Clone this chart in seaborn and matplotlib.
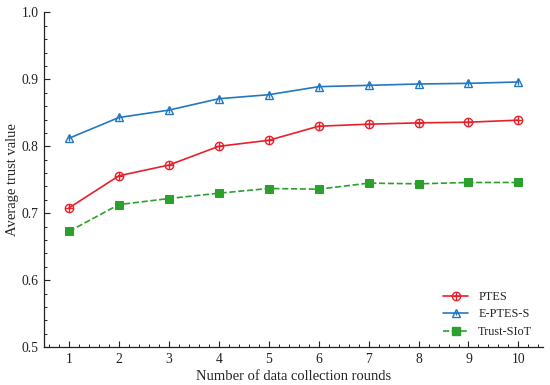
import matplotlib
matplotlib.use("Agg")
import matplotlib.pyplot as plt
import seaborn as sns
import pandas as pd
from matplotlib.ticker import AutoMinorLocator
from matplotlib.lines import Line2D

rounds = [1, 2, 3, 4, 5, 6, 7, 8, 9, 10]
ptes = [0.708, 0.756, 0.772, 0.800, 0.809, 0.830, 0.833, 0.835, 0.836, 0.839]
eptes_s = [0.812, 0.843, 0.854, 0.871, 0.877, 0.889, 0.891, 0.893, 0.894, 0.896]
trust_siot = [0.673, 0.713, 0.722, 0.730, 0.737, 0.736, 0.745, 0.744, 0.746, 0.746]
series_names = ["PTES", "E-PTES-S", "Trust-SIoT"]
x_ticks = [1, 2, 3, 4, 5, 6, 7, 8, 9, 10]
y_ticks = [0.5, 0.6, 0.7, 0.8, 0.9, 1.0]

sns.set_theme(style="ticks")
plt.rcParams["font.family"] = ["Liberation Serif", "DejaVu Serif"]

red = "#e8202a"
blue = "#2378c0"
green = "#2ca02c"

df = pd.DataFrame({
    "round": rounds * 3,
    "value": ptes + eptes_s + trust_siot,
    "series": [series_names[0]] * 10 + [series_names[1]] * 10 + [series_names[2]] * 10,
})

fig, ax = plt.subplots(figsize=(5.5, 3.85), dpi=100)
fig.subplots_adjust(left=0.08, right=0.988, top=0.968, bottom=0.098)

d = df[df.series == "PTES"]
sns.lineplot(data=d, x="round", y="value", ax=ax, color=red, lw=1.2,
             marker="o", markersize=6, markerfacecolor="none",
             markeredgecolor=red, markeredgewidth=1.0, legend=False)
sns.scatterplot(data=d, x="round", y="value", ax=ax, marker="+", s=30,
                color=red, linewidth=1.0, legend=False, zorder=3)

d = df[df.series == "E-PTES-S"]
sns.lineplot(data=d, x="round", y="value", ax=ax, color=blue, lw=1.2,
             marker="^", markersize=6, markerfacecolor="none",
             markeredgecolor=blue, markeredgewidth=1.0, legend=False)
sns.scatterplot(data=d, x="round", y="value", ax=ax, marker="|", s=14,
                color=blue, linewidth=1.0, legend=False, zorder=3)

d = df[df.series == "Trust-SIoT"]
sns.lineplot(data=d, x="round", y="value", ax=ax, color=green, lw=1.2,
             linestyle="--", marker="s", markersize=6, markerfacecolor=green,
             markeredgecolor=green, legend=False)

ax.set_xlim(0.5, 10.5)
ax.set_ylim(0.5, 1.0)
ax.set_xticks(x_ticks)
ax.set_yticks(y_ticks)
ax.set_yticklabels([f"{v:.1f}" for v in y_ticks])
ax.xaxis.set_minor_locator(AutoMinorLocator(5))
ax.yaxis.set_minor_locator(AutoMinorLocator(5))
ax.tick_params(axis="both", which="major", direction="in", length=4, width=0.8,
               labelsize=9.8, colors="#222222", pad=4)
ax.tick_params(axis="both", which="minor", direction="in", length=2, width=0.7)
ax.set_xlabel("Number of data collection rounds", fontsize=10.5, labelpad=3)
ax.set_ylabel("Average trust value", fontsize=10.5, labelpad=2)
sns.despine(ax=ax)
for s in ["left", "bottom"]:
    ax.spines[s].set_linewidth(0.9)
    ax.spines[s].set_color("#222222")

h1 = (Line2D([], [], color=red, lw=1.2, marker="o", markersize=6,
             markerfacecolor="none", markeredgecolor=red),
      Line2D([], [], color=red, lw=0, marker="+", markersize=5.5, markeredgewidth=1.0))
h2 = (Line2D([], [], color=blue, lw=1.2, marker="^", markersize=6,
             markerfacecolor="none", markeredgecolor=blue),
      Line2D([], [], color=blue, lw=0, marker="|", markersize=3.5, markeredgewidth=1.0))
h3 = Line2D([], [], color=green, lw=1.2, ls="--", marker="s", markersize=6)
ax.legend([h1, h2, h3], series_names, loc="lower right", frameon=False,
          fontsize=8.8, handlelength=2.1, bbox_to_anchor=(1.0, -0.005),
          labelspacing=0.45, handletextpad=0.8)

fig.savefig("out.png", dpi=100)
